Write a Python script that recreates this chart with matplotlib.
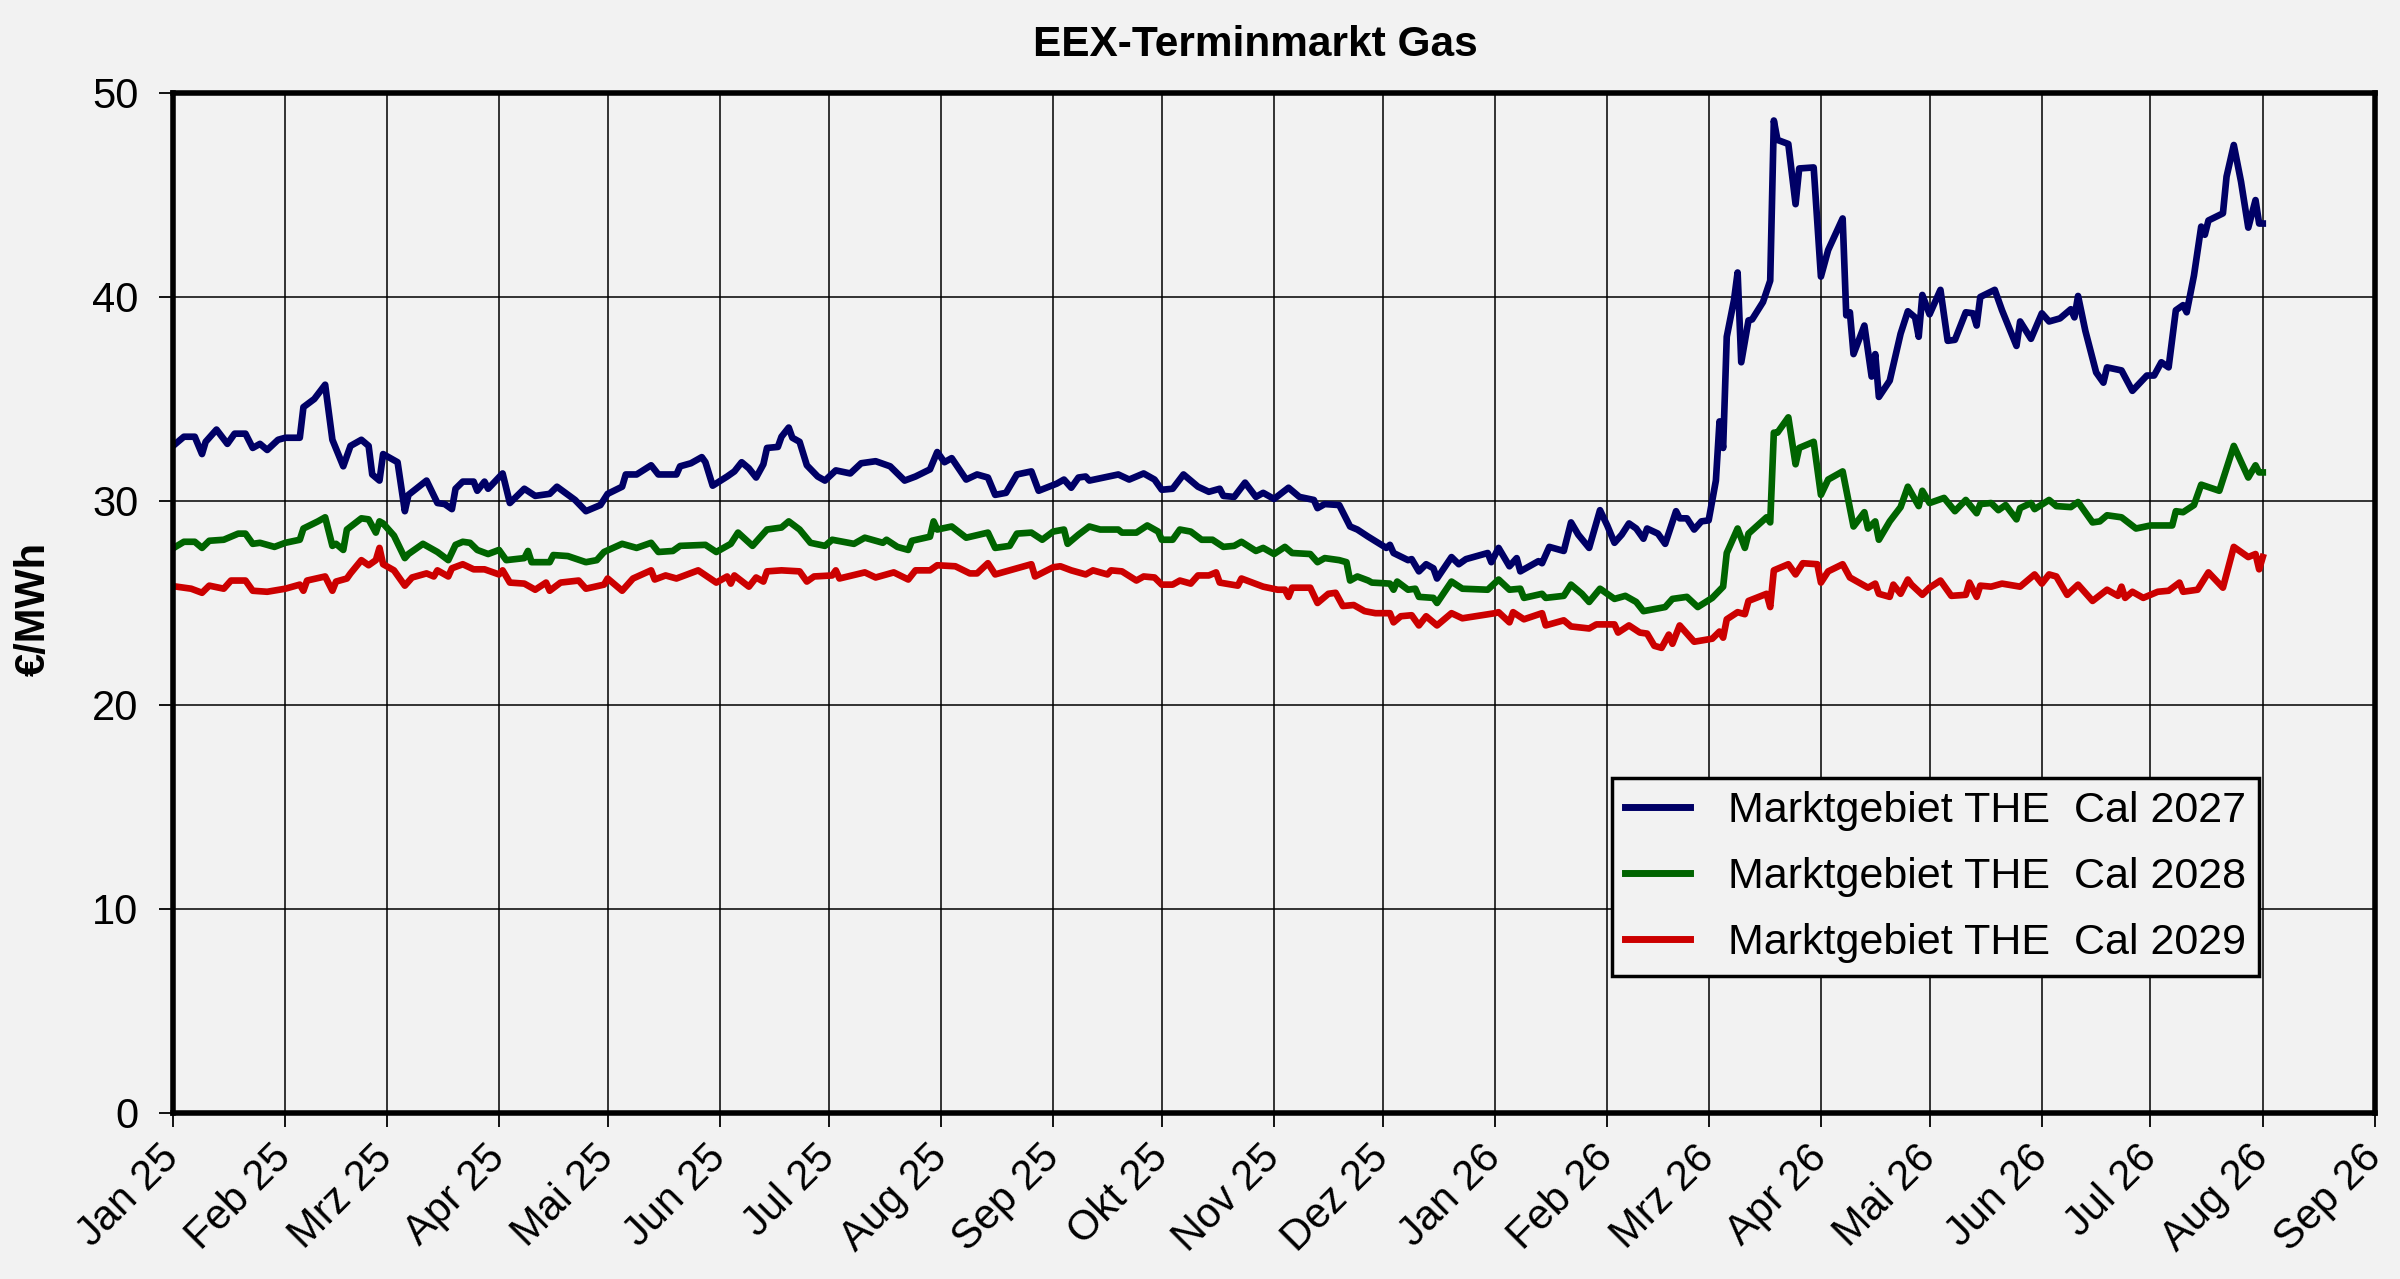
import numpy as np
import matplotlib
matplotlib.use("Agg")
import matplotlib.pyplot as plt

plt.rcParams['font.family'] = ['Liberation Sans', 'DejaVu Sans']

# Handelstage als Tage seit 01.01.2025, Preise in EUR/MWh
start = np.datetime64('2025-01-01')

cal27_day = [0, 3, 6, 8, 9, 12, 15, 17, 20, 22, 24, 26, 29, 31, 35, 36, 39, 42, 44, 47, 49, 52, 54, 55, 57, 58,
             62, 64, 65, 70, 73, 75, 77, 78, 80, 83, 84, 86, 87, 91, 93, 97, 100, 104, 106, 111, 114,
             118, 120, 124, 125, 128, 132, 134, 139, 140, 143, 146, 147, 149, 153, 155, 157, 159, 161, 163,
             164, 167, 168, 170, 171, 173, 175, 178, 180, 183, 187, 190, 194, 198, 202, 205, 209, 211, 213,
             215, 219, 222, 225, 227, 230, 233, 237, 239, 244, 246, 248, 250, 252, 253, 261, 264, 268, 271,
             273, 276, 279, 283, 286, 289, 290, 293, 296, 299, 301, 304, 308, 311, 315, 316, 318, 322, 325,
             327, 330, 335, 336, 337, 341, 342, 344, 346, 348, 349, 353, 355, 357, 363, 364, 366, 369, 371,
             372, 377, 378, 380, 384, 386, 388, 391, 394, 396, 398, 400, 402, 404, 406, 407, 410, 412, 415,
             416, 418, 420, 422, 424, 426, 427, 428, 429, 431, 432, 433, 435, 436, 439, 441, 442, 443, 446,
             448, 449, 453, 455, 457, 461, 462, 463, 464, 467, 469, 470, 471, 474, 477, 479, 481, 482, 483,
             485, 488, 490, 492, 495, 497, 498, 499, 503, 505, 509, 510, 513, 516, 518, 521, 524, 525, 526,
             528, 531, 533, 534, 538, 541, 545, 547, 549, 551, 553, 555, 556, 558, 560, 561, 562, 566, 567,
             569, 571, 573, 575, 576, 577]
cal27_val = [32.7, 33.15, 33.15, 32.3, 32.9, 33.5, 32.8, 33.3, 33.3, 32.6, 32.8, 32.5, 33.0, 33.1, 33.1, 34.6,
             35.0, 35.7, 33.0, 31.7, 32.7, 33.0, 32.7, 31.3, 31.0, 32.3,
             31.9, 29.5, 30.3, 31.0, 29.9, 29.85, 29.6, 30.6, 30.95, 30.95, 30.5, 30.95, 30.6, 31.35, 29.9,
             30.6, 30.25, 30.35, 30.7, 30.05, 29.5,
             29.8, 30.35, 30.7, 31.3, 31.3, 31.75, 31.3, 31.3, 31.7, 31.85, 32.15, 31.9, 30.75, 31.2, 31.45,
             31.9, 31.6, 31.15, 31.8,
             32.6, 32.65, 33.15, 33.6, 33.1, 32.9, 31.75, 31.2, 31.0, 31.5, 31.35, 31.85, 31.95, 31.7, 31.0,
             31.2, 31.55, 32.4, 31.9,
             32.1, 31.05, 31.3, 31.15, 30.3, 30.4, 31.3, 31.45, 30.5, 30.85, 31.05, 30.65, 31.15, 31.2, 31.0,
             31.3, 31.05, 31.35, 31.05,
             30.55, 30.6, 31.3, 30.7, 30.45, 30.6, 30.25, 30.2, 30.9, 30.2, 30.4, 30.1, 30.65, 30.2, 30.05,
             29.65, 29.85, 29.8, 28.75,
             28.6, 28.25, 27.7, 27.85, 27.45, 27.1, 27.15, 26.55, 26.9, 26.7, 26.2, 27.25, 26.9, 27.15, 27.45,
             27.0, 27.7, 26.8, 27.2,
             26.55, 27.05, 26.95, 27.75, 27.55, 28.95, 28.35, 27.7, 29.55, 28.8, 27.95, 28.35, 28.9, 28.65,
             28.15, 28.65, 28.4, 27.9, 29.5,
             29.15, 29.15, 28.6, 29.0, 29.05, 31.0, 33.9, 32.6, 38.05, 39.85, 41.2, 36.8, 38.85, 38.9, 39.75,
             40.8, 48.65, 47.7, 47.5,
             44.55, 46.3, 46.35, 41.0, 42.3, 43.85, 39.1, 39.25, 37.2, 38.6, 36.1, 37.2, 35.1, 35.9, 38.2, 39.3,
             39.0, 38.05, 40.1,
             39.15, 40.35, 37.85, 37.9, 39.25, 39.2, 38.6, 40.0, 40.35, 39.35, 37.6, 38.8, 37.95, 39.2, 38.8,
             38.95, 39.4, 39.0, 40.05,
             38.35, 36.3, 35.8, 36.55, 36.4, 35.4, 36.15, 36.15, 36.8, 36.55, 39.35, 39.6, 39.25, 41.05, 43.45,
             43.05, 43.75, 44.1, 45.9,
             47.45, 45.65, 43.4, 44.75, 43.6, 43.6]

cal28_day = [0, 3, 6, 8, 10, 14, 18, 20, 22, 24, 28, 31, 35, 36, 40, 42, 44, 45, 47, 48, 52, 54, 56, 57, 58, 61,
             64, 65, 69, 73, 76, 78, 80, 82, 84, 87, 90, 92, 97, 98, 99, 104, 105, 109, 114,
             117, 119, 124, 128, 132, 134, 138, 140, 147, 150, 154, 156, 160, 164, 168, 170, 173, 176, 180,
             182, 188, 191, 196, 197, 200, 203, 204, 209, 210, 211, 215, 219, 225, 227,
             231, 233, 237, 240, 243, 246, 247, 250, 253, 256, 261, 262, 266, 269, 272, 273, 276, 278, 281,
             284, 287, 290, 293, 295, 299, 301, 304, 307, 309, 314, 316, 318, 322, 324, 325, 327, 330, 331,
             336, 337, 338, 341, 343, 344, 348, 349, 353, 356, 363, 366, 369, 372, 373, 378, 379, 384, 386,
             389, 391, 394, 398, 401, 404, 406, 412, 414, 418, 421, 425, 428, 429, 432, 434, 435, 440, 441,
             442, 443, 446, 448, 449, 453, 455, 457, 461, 463, 464, 467, 468, 470, 471, 474, 477, 479, 482,
             483, 485, 489, 492, 495, 498, 499, 502, 504, 506, 509, 510, 513, 514, 518, 520, 524, 526, 530,
             532, 534, 538, 542, 546, 552, 553, 555, 558, 560, 565, 569, 573, 575, 576, 577]
cal28_val = [27.68, 28.0, 28.0, 27.7, 28.05, 28.1, 28.4, 28.4, 27.9, 27.95, 27.75, 27.95, 28.1, 28.65, 29.0, 29.2,
             27.8, 27.9, 27.6, 28.6, 29.15, 29.1, 28.45, 29.0, 28.9, 28.3,
             27.2, 27.4, 27.9, 27.5, 27.1, 27.85, 28.0, 27.95, 27.6, 27.4, 27.6, 27.1, 27.2, 27.55, 27.0, 27.0,
             27.35, 27.3, 27.0,
             27.1, 27.5, 27.9, 27.7, 27.95, 27.5, 27.55, 27.8, 27.85, 27.5, 27.9, 28.45, 27.8, 28.6, 28.7, 29.0,
             28.6, 27.95, 27.8,
             28.1, 27.9, 28.2, 27.95, 28.1, 27.75, 27.6, 28.05, 28.25, 29.0, 28.6, 28.75, 28.2, 28.45, 27.7,
             27.8, 28.4, 28.45, 28.1, 28.5, 28.6, 27.9, 28.35, 28.75, 28.6, 28.6, 28.45, 28.45, 28.8, 28.5,
             28.1, 28.1, 28.6, 28.5,
             28.1, 28.1, 27.75, 27.8, 28.0, 27.55, 27.7, 27.4, 27.75, 27.45, 27.4, 27.0, 27.2, 27.1, 27.0, 26.1,
             26.3, 26.1, 26.0,
             25.95, 25.65, 26.05, 25.65, 25.7, 25.3, 25.25, 25.0, 26.05, 25.7, 25.65, 26.15, 25.65, 25.7, 25.25,
             25.45, 25.25, 25.35, 25.9,
             25.45, 25.05, 25.7, 25.2, 25.35, 25.05, 24.6, 24.8, 25.2, 25.3, 24.8, 25.25, 25.8, 27.45, 28.65,
             27.7, 28.4, 29.2, 28.95,
             33.35, 33.35, 34.1, 31.8, 32.6, 32.9, 30.3, 31.05, 31.45, 29.65, 28.75, 29.45, 28.65, 29.0, 28.1,
             29.0, 29.7, 30.7, 29.75,
             30.5, 29.9, 30.15, 29.5, 30.05, 29.4, 29.85, 29.9, 29.55, 29.8, 29.1, 29.65, 29.9, 29.6, 30.05,
             29.75, 29.7, 29.95, 28.95,
             29.0, 29.3, 29.2, 28.65, 28.8, 28.8, 29.5, 29.45, 29.8, 30.8, 30.5, 32.7, 31.15, 31.75, 31.4, 31.4]

cal29_day = [1, 5, 8, 10, 14, 16, 20, 22, 26, 31, 35, 36, 37, 42, 44, 45, 48, 49, 52, 54, 56, 57, 58, 61, 64, 66,
             70, 72, 73, 76, 77, 80, 83, 86, 90, 91, 93, 97, 100, 103, 104, 107, 112, 114,
             119, 120, 124, 127, 132, 133, 136, 139, 145, 150, 153, 154, 155, 159, 161, 163, 164, 168, 173,
             175, 177, 182, 183, 184, 191, 194, 199, 203, 205, 209, 211, 216, 220, 222, 225, 227,
             231, 237, 238, 243, 245, 248, 252, 254, 258, 259, 262, 266, 268, 271, 273, 276, 278, 281, 283,
             286, 288, 289, 294, 295, 298, 301, 305, 307, 308, 309, 314, 316, 319, 321, 323, 326, 329, 332,
             336, 337, 339, 342, 344, 346, 349, 353, 356, 365, 366, 369, 370, 373, 378, 379, 384, 386, 391,
             393, 398, 399, 402, 405, 407, 409, 411, 413, 414, 416, 420, 425, 427, 428, 429, 432, 434, 435,
             440, 441, 442, 446, 448, 450, 454, 455, 457, 461, 463, 468, 470, 471, 474, 475, 477, 479, 480,
             483, 485, 488, 491, 495, 496, 498, 499, 502, 505, 510, 514, 516, 518, 520, 523, 526, 530, 534,
             537, 538, 539, 541, 544, 548, 551, 554, 555, 559, 562, 566, 569, 573, 575, 576, 577]
cal29_val = [25.8, 25.7, 25.5, 25.85, 25.7, 26.1, 26.1, 25.6, 25.55, 25.7, 25.9, 25.6, 26.1, 26.3, 25.6, 26.05,
             26.2, 26.45, 27.1, 26.85, 27.1, 27.7, 26.9, 26.6, 25.85, 26.25,
             26.45, 26.3, 26.6, 26.3, 26.7, 26.9, 26.65, 26.65, 26.4, 26.6, 26.0, 25.95, 25.65, 26.0, 25.6,
             26.0, 26.1, 25.7,
             25.9, 26.2, 25.6, 26.2, 26.6, 26.15, 26.35, 26.2, 26.6, 26.0, 26.3, 25.95, 26.35, 25.8, 26.25,
             26.05, 26.55, 26.6, 26.55,
             26.05, 26.3, 26.35, 26.6, 26.2, 26.5, 26.25, 26.5, 26.15, 26.6, 26.6, 26.85, 26.8, 26.45, 26.45,
             26.95, 26.4,
             26.6, 26.9, 26.3, 26.75, 26.8, 26.6, 26.4, 26.6, 26.4, 26.6, 26.55, 26.1, 26.3, 26.25, 25.9, 25.9,
             26.1, 25.95, 26.35,
             26.35, 26.5, 26.0, 25.85, 26.2, 26.0, 25.8, 25.65, 25.65, 25.3, 25.75, 25.75, 25.0, 25.45, 25.5,
             24.85, 24.9, 24.6, 24.5,
             24.5, 24.05, 24.35, 24.4, 23.9, 24.35, 23.9, 24.5, 24.25, 24.5, 24.55, 24.05, 24.55, 24.2, 24.5,
             23.9, 24.15, 23.85, 23.75,
             23.95, 23.95, 23.55, 23.9, 23.55, 23.5, 22.9, 22.8, 23.45, 23.0, 23.9, 23.1, 23.25, 23.6, 23.3,
             24.2, 24.55, 24.45, 25.1,
             25.45, 24.8, 26.6, 26.9, 26.4, 26.95, 26.9, 26.0, 26.55, 26.9, 26.25, 25.75, 25.95, 25.45, 25.3,
             25.9, 25.45, 26.15, 25.9,
             25.4, 25.75, 26.1, 25.35, 25.4, 26.0, 25.3, 25.85, 25.8, 25.95, 25.8, 26.4, 25.95, 26.4, 26.3,
             25.4, 25.9, 25.1, 25.65,
             25.35, 25.8, 25.25, 25.55, 25.25, 25.55, 25.6, 26.0, 25.55, 25.65, 26.5, 25.75, 27.75, 27.25,
             27.4, 26.65, 27.25]

series = [
    ('Marktgebiet THE  Cal 2027', cal27_day, cal27_val, '#000066'),
    ('Marktgebiet THE  Cal 2028', cal28_day, cal28_val, '#006400'),
    ('Marktgebiet THE  Cal 2029', cal29_day, cal29_val, '#cc0000'),
]

monate = ['Jan', 'Feb', 'Mrz', 'Apr', 'Mai', 'Jun', 'Jul', 'Aug', 'Sep', 'Okt', 'Nov', 'Dez']
bg = '#f2f2f2'

fig = plt.figure(figsize=(24, 12.79), dpi=100, facecolor=bg)
ax = fig.add_axes([0.0721, 0.1298, 0.9175, 0.7975], facecolor=bg)

for name, days, vals, col in series:
    dates = start + np.array(days).astype('timedelta64[D]')
    ax.plot(dates, vals, color=col, lw=4.8, label=name)

ax.set_ylim(0, 50)
ax.set_yticks(range(0, 51, 10))
ax.set_xlim(np.datetime64('2025-01-01'), np.datetime64('2026-09-01'))

ticks = np.arange(np.datetime64('2025-01'), np.datetime64('2026-10'), np.timedelta64(1, 'M'))
ax.set_xticks(ticks.astype('datetime64[D]'))
ax.set_xticklabels([f"{monate[int(str(t)[5:7]) - 1]} {str(t)[2:4]}" for t in ticks],
                   rotation=45, ha='right', va='center', rotation_mode='anchor')

ax.grid(True, color='black', lw=1.1)
ax.set_axisbelow(True)
ax.tick_params(axis='both', direction='out', length=10, width=1.3, labelsize=30, color='black')
ax.tick_params(axis='y', pad=15)
ax.tick_params(axis='x', pad=18)
for s in ax.spines.values():
    s.set_linewidth(4)
    s.set_color('black')

fig.text(0.523, 0.965, 'EEX-Terminmarkt Gas', ha='center', va='center', fontsize=30.5, fontweight='bold')
fig.text(0.0142, 0.524, '€/MWh', rotation=90, ha='center', va='center', fontsize=30, fontweight='bold')

leg = ax.legend(loc='upper left', bbox_to_anchor=(0.6535, 0.3284), borderaxespad=0, fontsize=31,
                frameon=True, fancybox=False, edgecolor='black', facecolor=bg, framealpha=1,
                handlelength=1.5, handletextpad=0.9, labelspacing=0.6, borderpad=0.3)
leg.get_frame().set_linewidth(2.5)
for h in leg.get_lines():
    h.set_linewidth(5)

fig.savefig('out.png', dpi=100, facecolor=bg)
